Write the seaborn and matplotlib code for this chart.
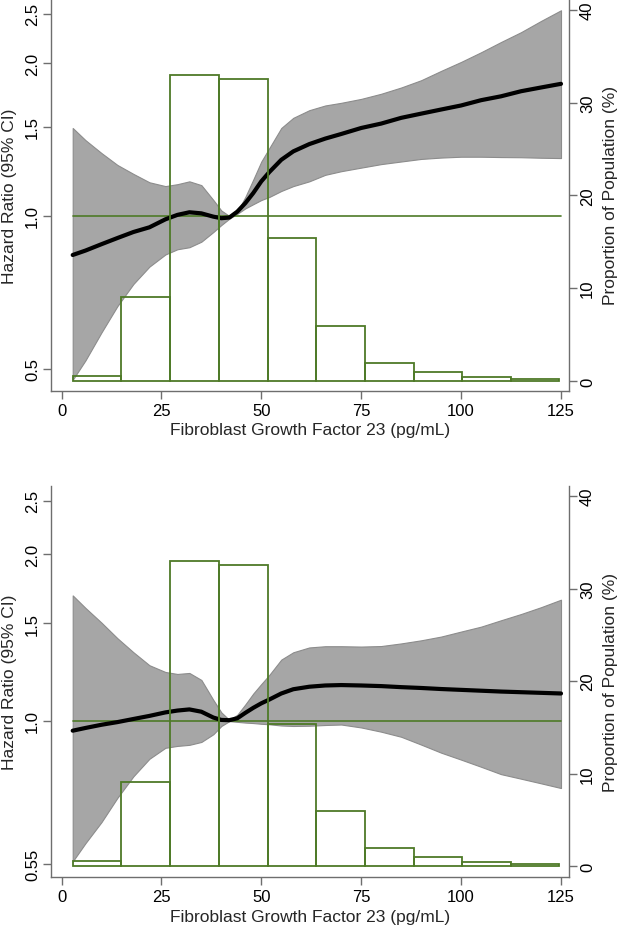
import numpy as np
import pandas as pd
import seaborn as sns
import matplotlib
matplotlib.use("Agg")
import matplotlib.pyplot as plt
from matplotlib.ticker import FixedLocator, NullLocator

# ---------------------------------------------------------
# data
# ---------------------------------------------------------
fgf23 = [2.8, 6, 10, 14, 18, 22, 26, 29, 32, 35, 38, 40, 42, 44, 46, 48, 50,
         52, 55, 58, 62, 66, 70, 75, 80, 85, 90, 95, 100, 105, 110, 115, 120, 125]

# top panel
hr_top = [0.838, 0.855, 0.88, 0.905, 0.93, 0.95, 0.985, 1.005, 1.017, 1.012,
          0.997, 0.99, 0.993, 1.02, 1.06, 1.11, 1.17, 1.22, 1.29, 1.34, 1.385,
          1.42, 1.45, 1.49, 1.52, 1.56, 1.59, 1.62, 1.65, 1.69, 1.72, 1.76, 1.79, 1.82]
upper_top = [1.49, 1.41, 1.33, 1.26, 1.21, 1.165, 1.145, 1.155, 1.17, 1.15,
             1.075, 1.025, 1.0, 1.02, 1.09, 1.18, 1.28, 1.36, 1.49, 1.56, 1.615,
             1.65, 1.67, 1.70, 1.74, 1.79, 1.85, 1.93, 2.01, 2.1, 2.2, 2.3, 2.42, 2.54]
lower_top = [0.476, 0.52, 0.59, 0.665, 0.735, 0.795, 0.84, 0.86, 0.868, 0.89,
             0.93, 0.96, 0.988, 1.01, 1.035, 1.055, 1.075, 1.09, 1.12, 1.145, 1.17,
             1.205, 1.225, 1.245, 1.265, 1.28, 1.295, 1.303, 1.308, 1.308, 1.306,
             1.305, 1.302, 1.30]

# bottom panel
hr_bot = [0.959, 0.97, 0.983, 0.994, 1.007, 1.02, 1.035, 1.043, 1.048, 1.038,
          1.013, 1.003, 1.002, 1.01, 1.033, 1.055, 1.075, 1.092, 1.12, 1.14, 1.152,
          1.158, 1.16, 1.158, 1.155, 1.15, 1.146, 1.141, 1.137, 1.133, 1.129,
          1.126, 1.123, 1.12]
upper_bot = [1.686, 1.6, 1.505, 1.41, 1.33, 1.26, 1.225, 1.215, 1.22, 1.185,
             1.09, 1.035, 1.003, 1.025, 1.07, 1.12, 1.165, 1.21, 1.29, 1.33, 1.357,
             1.364, 1.364, 1.362, 1.365, 1.38, 1.398, 1.42, 1.45, 1.48, 1.52, 1.56,
             1.605, 1.656]
lower_bot = [0.556, 0.6, 0.655, 0.725, 0.793, 0.853, 0.893, 0.9, 0.904, 0.915,
             0.945, 0.978, 0.998, 0.995, 0.992, 0.99, 0.987, 0.985, 0.98, 0.978,
             0.979, 0.982, 0.984, 0.972, 0.955, 0.935, 0.905, 0.875, 0.85, 0.825,
             0.8, 0.785, 0.77, 0.755]

# histogram (same distribution in both panels)
bin_edges = [2.8, 14.9, 27.1, 39.4, 51.6, 63.8, 75.9, 88.1, 100.3, 112.4, 124.6]
pct_pop = [0.55, 9.1, 33.0, 32.5, 15.4, 5.95, 1.9, 1.0, 0.45, 0.18]

x_ticks = [0, 25, 50, 75, 100, 125]
pct_ticks = [0, 10, 20, 30, 40]
hr_ticks_top = [0.5, 1.0, 1.5, 2.0, 2.5]
hr_labels_top = ["0.5", "1.0", "1.5", "2.0", "2.5"]
hr_ticks_bot = [0.55, 1.0, 1.5, 2.0, 2.5]
hr_labels_bot = ["0.55", "1.0", "1.5", "2.0", "2.5"]

# ---------------------------------------------------------
# style
# ---------------------------------------------------------
sns.set_theme(style="white")
plt.rcParams["font.family"] = ["Liberation Sans", "DejaVu Sans"]

GREEN = "#4e7a27"
BAND = "#a6a6a6"
AXCOL = "#6e6e6e"
FS = 12

fig = plt.figure(figsize=(6.22, 9.29), dpi=100)

panels = [
    dict(rect=[51 / 622, 537.3 / 929, 518 / 622, 391.7 / 929],
         hr=hr_top, up=upper_top, lo=lower_top,
         ylim=(0.4531, 2.673), pylim=(-1.045, 41.16),
         ticks=hr_ticks_top, labels=hr_labels_top),
    dict(rect=[51 / 622, 51 / 929, 518 / 622, 391.3 / 929],
         hr=hr_bot, up=upper_bot, lo=lower_bot,
         ylim=(0.521, 2.664), pylim=(-1.19, 41.13),
         ticks=hr_ticks_bot, labels=hr_labels_bot),
]

centers = [(a + b) / 2 for a, b in zip(bin_edges[:-1], bin_edges[1:])]
df_hist = pd.DataFrame({"FGF23": centers, "Percent": pct_pop})

for p in panels:
    ax = fig.add_axes(p["rect"])
    df_curve = pd.DataFrame({"FGF23": fgf23, "HR": p["hr"]})

    # confidence band
    ax.fill_between(fgf23, p["lo"], p["up"], color=BAND,
                    edgecolor="#8c8c8c", linewidth=0.8, zorder=1)
    # reference line at HR = 1
    ax.plot([fgf23[0], fgf23[-1]], [1, 1], color=GREEN, linewidth=1.2, zorder=2)
    # spline estimate
    sns.lineplot(data=df_curve, x="FGF23", y="HR", ax=ax, color="black",
                 linewidth=3.0, zorder=3)

    ax.set_yscale("log")
    ax.set_xlim(-2.63, 127.0)
    ax.set_ylim(*p["ylim"])
    ax.yaxis.set_major_locator(FixedLocator(p["ticks"]))
    ax.yaxis.set_minor_locator(NullLocator())
    ax.set_yticklabels(p["labels"], rotation=90, va="center")
    ax.set_xticks(x_ticks)
    ax.set_xticklabels([str(t) for t in x_ticks])
    ax.set_xlabel("Fibroblast Growth Factor 23 (pg/mL)", fontsize=FS + 0.5,
                  labelpad=3)
    ax.set_ylabel("Hazard Ratio (95% CI)", fontsize=FS + 0.5, labelpad=6)

    # histogram on secondary axis
    ax2 = ax.twinx()
    sns.histplot(data=df_hist, x="FGF23", weights="Percent", bins=bin_edges,
                 fill=False, color=GREEN, linewidth=1.3, ax=ax2)
    ax2.set_ylim(*p["pylim"])
    ax2.set_yticks(pct_ticks)
    ax2.set_yticklabels([str(t) for t in pct_ticks], rotation=90, va="center")
    ax2.set_ylabel("Proportion of Population (%)", fontsize=FS + 0.5, labelpad=6)
    ax2.set_xlim(-2.63, 127.0)

    for a in (ax, ax2):
        a.spines["top"].set_visible(False)
        for s in a.spines.values():
            s.set_color(AXCOL)
            s.set_linewidth(1.0)
        a.tick_params(axis="both", which="major", length=6, width=1.0,
                      color=AXCOL, labelsize=FS, labelcolor="black", pad=3)
    ax.spines["right"].set_visible(False)
    ax2.spines["left"].set_visible(False)
    ax2.spines["bottom"].set_visible(False)
    ax.tick_params(axis="y", left=True, pad=2)
    ax.tick_params(axis="x", bottom=True)
    ax2.tick_params(axis="y", right=True, pad=2)
    ax2.grid(False)
    ax.grid(False)

fig.savefig("out.png", dpi=100)
